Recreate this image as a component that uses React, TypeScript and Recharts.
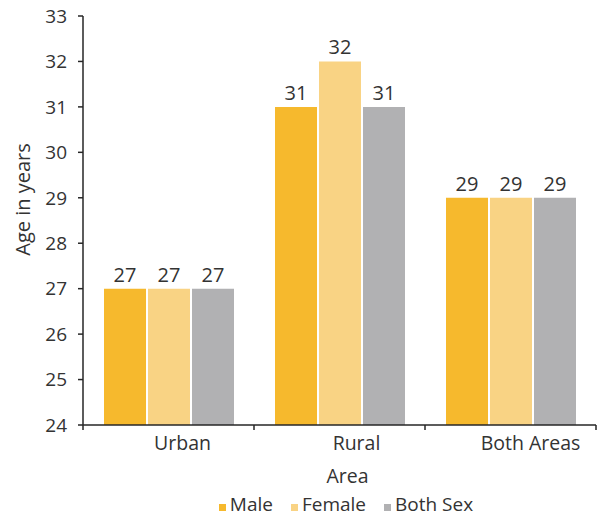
import { Bar, BarChart, LabelList, Legend, XAxis, YAxis } from 'recharts';

const areas = ['Urban', 'Rural', 'Both Areas'];
const male = [27, 31, 29];
const female = [27, 32, 29];
const bothSex = [27, 31, 29];
const yTicks = [24, 25, 26, 27, 28, 29, 30, 31, 32, 33];

const SERIES = [
  { key: 'male', name: 'Male', color: '#F6B92D' },
  { key: 'female', name: 'Female', color: '#F9D384' },
  { key: 'both', name: 'Both Sex', color: '#B1B1B3' },
];

const data = areas.map((area, i) => ({
  area,
  male: male[i],
  female: female[i],
  both: bothSex[i],
}));

const FONT = '"Open Sans", Lato, sans-serif';
const TEXT = '#333333';
const AXIS = '#262626';

const YLabel = ({ viewBox }: any) => {
  const cx = viewBox.x + 22;
  const cy = viewBox.y + viewBox.height / 2 - 21;
  return (
    <text
      x={cx}
      y={cy}
      transform={`rotate(-90, ${cx}, ${cy})`}
      textAnchor="middle"
      dominantBaseline="central"
      fill={TEXT}
      fontSize={20}
      fontFamily={FONT}
    >
      Age in years
    </text>
  );
};

// category label plus the small tick marks at the band edges
const AreaTick = ({ x, y, payload, visibleTicksCount }: any) => {
  const half = payload.offset || 0;
  const axisY = y - 12;
  const isLast = payload.index === visibleTicksCount - 1;
  return (
    <g>
      <line x1={x - half} x2={x - half} y1={axisY} y2={axisY + 5} stroke={AXIS} strokeWidth={1.5} />
      {isLast && (
        <line x1={x + half} x2={x + half} y1={axisY} y2={axisY + 5} stroke={AXIS} strokeWidth={1.5} />
      )}
      <text
        x={x + 14 + payload.index * 3}
        y={y - 1}
        dy="0.71em"
        textAnchor="middle"
        fill={TEXT}
        fontSize={19.5}
        fontFamily={FONT}
      >
        {payload.value}
      </text>
    </g>
  );
};

const LegendContent = () => (
  <div
    style={{
      display: 'flex',
      justifyContent: 'center',
      gap: 18,
      fontFamily: FONT,
      fontSize: 19,
      color: TEXT,
    }}
  >
    {SERIES.map((s) => (
      <span key={s.key} style={{ display: 'flex', alignItems: 'center' }}>
        <span
          style={{
            display: 'inline-block',
            width: 7,
            height: 7,
            background: s.color,
            marginRight: 4,
            marginTop: 7,
          }}
        />
        {s.name}
      </span>
    ))}
  </div>
);

export default function App() {
  return (
    <div style={{ position: 'absolute', left: 0, top: 0, width: 598, height: 519, background: '#fff' }}>
      <BarChart
        width={598}
        height={519}
        data={data}
        margin={{ top: 16, right: 2, left: 0, bottom: 0 }}
        barGap={2}
        barSize={42}
      >
        <XAxis
          dataKey="area"
          height={60}
          tickLine={false}
          tickSize={5}
          tickMargin={7}
          axisLine={{ stroke: AXIS, strokeWidth: 1.5 }}
          tick={<AreaTick />}
          label={{
            value: 'Area',
            position: 'insideBottom',
            offset: 2,
            dx: 8,
            fill: TEXT,
            fontSize: 19.5,
            fontFamily: FONT,
          }}
        />
        <YAxis
          width={83}
          domain={[24, 33]}
          ticks={yTicks}
          interval={0}
          tickSize={5}
          tickMargin={11}
          axisLine={{ stroke: AXIS, strokeWidth: 1.5 }}
          tickLine={{ stroke: AXIS, strokeWidth: 1.5 }}
          tick={{ fill: TEXT, fontSize: 19, fontFamily: FONT }}
          label={<YLabel />}
        />
        <Legend
          verticalAlign="bottom"
          height={34}
          content={<LegendContent />}
          wrapperStyle={{ left: 96, width: 500, top: 491 }}
        />
        {SERIES.map((s) => (
          <Bar key={s.key} dataKey={s.key} name={s.name} fill={s.color} isAnimationActive={false}>
            <LabelList
              dataKey={s.key}
              position="top"
              offset={7}
              fill={TEXT}
              fontSize={20}
              fontFamily={FONT}
            />
          </Bar>
        ))}
      </BarChart>
    </div>
  );
}
